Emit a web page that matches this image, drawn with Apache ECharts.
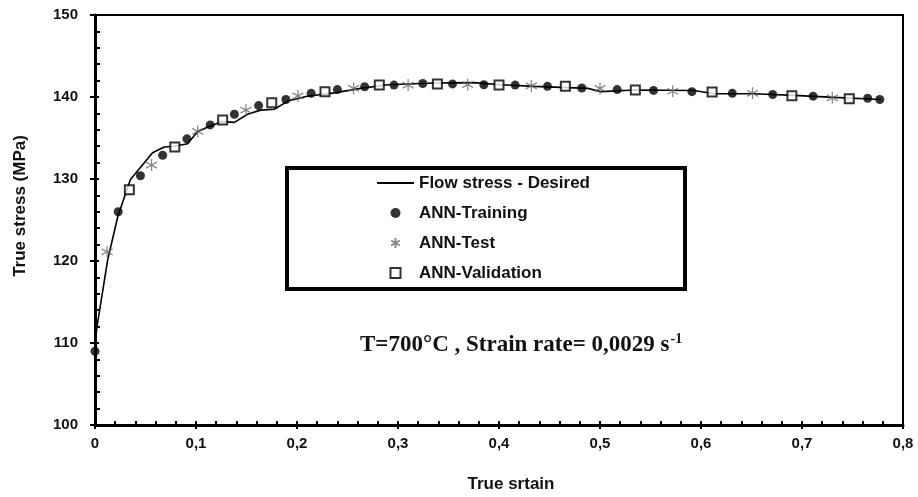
<!DOCTYPE html>
<html>
<head>
<meta charset="utf-8">
<script src="https://cdn.jsdelivr.net/npm/echarts@6/dist/echarts.min.js"></script>
<style>
  html, body { margin: 0; padding: 0; background: #fff; }
  #chart { width: 918px; height: 497px; }
</style>
</head>
<body>
<div id="chart"></div>
<script>
// Flow stress curve (desired) – true strain / true stress (MPa)
const desiredStrain = [0, 0.002, 0.0125, 0.0225, 0.035, 0.0455, 0.057, 0.0686, 0.0785, 0.0917, 0.1017, 0.113, 0.126, 0.138, 0.151, 0.164, 0.1775, 0.191, 0.21, 0.237, 0.263, 0.29, 0.336, 0.375, 0.402, 0.435, 0.488, 0.501, 0.534, 0.593, 0.613, 0.652, 0.692, 0.732, 0.778];
const desiredStress = [110.0, 112.0, 120.1, 125.4, 129.9, 131.5, 133.2, 133.9, 134.0, 134.3, 135.8, 136.4, 137.0, 136.9, 137.9, 138.4, 138.5, 139.5, 140.1, 140.5, 141.05, 141.5, 141.7, 141.75, 141.5, 141.3, 141.05, 140.65, 140.85, 140.8, 140.4, 140.4, 140.2, 139.95, 139.7];

// ANN predictions
const trainStrain = [0.0, 0.023, 0.045, 0.067, 0.091, 0.114, 0.138, 0.162, 0.189, 0.214, 0.240, 0.267, 0.296, 0.3245, 0.354, 0.385, 0.416, 0.448, 0.482, 0.517, 0.553, 0.591, 0.631, 0.671, 0.711, 0.765, 0.777];
const trainStress = [109.0, 126.0, 130.4, 132.9, 134.9, 136.6, 137.9, 138.95, 139.7, 140.45, 140.9, 141.25, 141.45, 141.65, 141.6, 141.5, 141.45, 141.3, 141.1, 140.9, 140.8, 140.65, 140.45, 140.3, 140.1, 139.85, 139.7];

const testStrain = [0.012, 0.056, 0.1017, 0.1495, 0.201, 0.256, 0.310, 0.369, 0.432, 0.500, 0.572, 0.651, 0.730];
const testStress = [121.1, 131.7, 135.8, 138.4, 140.15, 141.05, 141.45, 141.5, 141.35, 141.05, 140.7, 140.45, 139.9];

const validStrain = [0.034, 0.079, 0.1264, 0.175, 0.2277, 0.2815, 0.339, 0.400, 0.4657, 0.535, 0.611, 0.690, 0.7468];
const validStress = [128.7, 133.9, 137.2, 139.3, 140.65, 141.45, 141.6, 141.45, 141.3, 140.85, 140.6, 140.15, 139.8];

// Axis tick labels
const xTickValues = [0, 0.1, 0.2, 0.3, 0.4, 0.5, 0.6, 0.7, 0.8];
const xTickLabels = ['0', '0,1', '0,2', '0,3', '0,4', '0,5', '0,6', '0,7', '0,8'];
const yTickLabels = ['100', '110', '120', '130', '140', '150'];

const seriesNames = ['Flow stress - Desired', 'ANN-Training', 'ANN-Test', 'ANN-Validation'];

const zip = (xs, ys) => xs.map((x, i) => [x, ys[i]]);
const starPath = 'path://M0,-10L0,10M-8.66,-5L8.66,5M-8.66,5L8.66,-5';
const squarePath = 'path://M0,0L10,0L10,10L0,10Z';
const sansBold = { fontFamily: 'Liberation Sans, Arial, sans-serif', fontWeight: 'bold', color: '#111' };

const chart = echarts.init(document.getElementById('chart'), null, { renderer: 'canvas' });

const baseX = { type: 'value', min: 0, max: 0.8, interval: 0.1, gridIndex: 0, position: 'bottom' };
const baseY = { type: 'value', min: 100, max: 150, interval: 10, gridIndex: 0, position: 'left' };

chart.setOption({
  animation: false,
  backgroundColor: '#fff',
  grid: { left: 95, right: 15, top: 15, bottom: 72, show: true, borderColor: '#000', borderWidth: 2, backgroundColor: 'transparent' },
  xAxis: [
    Object.assign({}, baseX, {
      axisLine: { lineStyle: { color: '#000', width: 3 } },
      axisTick: { show: true, inside: false, length: 4, lineStyle: { color: '#000', width: 2 } },
      axisLabel: Object.assign({ fontSize: 15, margin: 11, formatter: v => {
        const i = xTickValues.findIndex(t => Math.abs(t - v) < 1e-9);
        return i >= 0 ? xTickLabels[i] : '';
      } }, sansBold),
      splitLine: { show: false }
    }),
    Object.assign({}, baseX, {
      axisLine: { show: false },
      axisTick: { show: true, inside: true, length: 4, lineStyle: { color: '#000', width: 2 } },
      minorTick: { show: true, splitNumber: 5, length: 4, lineStyle: { color: '#000', width: 2 } },
      axisLabel: { show: false },
      splitLine: { show: false }
    })
  ],
  yAxis: [
    Object.assign({}, baseY, {
      axisLine: { lineStyle: { color: '#000', width: 3 } },
      axisTick: { show: true, inside: false, length: 5, lineStyle: { color: '#000', width: 2 } },
      axisLabel: Object.assign({ fontSize: 15, margin: 17, formatter: v => yTickLabels[Math.round((v - 100) / 10)] }, sansBold),
      splitLine: { show: false }
    }),
    Object.assign({}, baseY, {
      axisLine: { show: false },
      axisTick: { show: true, inside: true, length: 4, lineStyle: { color: '#000', width: 2 } },
      minorTick: { show: true, splitNumber: 5, length: 5, lineStyle: { color: '#000', width: 2 } },
      axisLabel: { show: false },
      splitLine: { show: false }
    })
  ],
  legend: {
    left: 376, top: 173, orient: 'vertical', padding: 0,
    itemWidth: 37, itemHeight: 10, itemGap: 10,
    data: [
      { name: seriesNames[0], itemStyle: { opacity: 0 } },
      { name: seriesNames[1] },
      { name: seriesNames[2] },
      { name: seriesNames[3], icon: squarePath }
    ],
    textStyle: Object.assign({ fontSize: 17, lineHeight: 20 }, sansBold)
  },
  series: [
    {
      name: seriesNames[0], type: 'line', xAxisIndex: 0, yAxisIndex: 0,
      data: zip(desiredStrain, desiredStress),
      symbol: 'none', lineStyle: { color: '#000', width: 1.6 }, itemStyle: { color: '#000' }, z: 2
    },
    {
      name: seriesNames[1], type: 'scatter', xAxisIndex: 0, yAxisIndex: 0,
      data: zip(trainStrain, trainStress),
      symbol: 'circle', symbolSize: 9, itemStyle: { color: '#000' }, z: 3
    },
    {
      name: seriesNames[2], type: 'scatter', xAxisIndex: 0, yAxisIndex: 0,
      data: zip(testStrain, testStress),
      symbol: starPath, symbolSize: [11, 12],
      itemStyle: { color: 'transparent', borderColor: '#6a6a6a', borderWidth: 1.3 }, z: 3
    },
    {
      name: seriesNames[3], type: 'scatter', xAxisIndex: 0, yAxisIndex: 0,
      data: zip(validStrain, validStress),
      symbol: 'rect', symbolSize: 9,
      itemStyle: { color: '#fff', borderColor: '#000', borderWidth: 2 }, z: 4
    }
  ],
  graphic: [
    {
      type: 'rect', z: 1, silent: true,
      shape: { x: 287, y: 168, width: 398, height: 121 },
      style: { fill: 'transparent', stroke: '#000', lineWidth: 4 }
    },
    {
      type: 'text', silent: true, x: 360, y: 345,
      style: {
        text: '{a|T=700°C , Strain rate= 0,0029 s}{b|-1}',
        verticalAlign: 'middle',
        rich: {
          a: { fontFamily: 'Liberation Serif, Times New Roman, serif', fontWeight: 'bold', fontSize: 23, fill: '#111' },
          b: { fontFamily: 'Liberation Serif, Times New Roman, serif', fontWeight: 'bold', fontSize: 14, fill: '#111', verticalAlign: 'top', padding: [0, 0, 12, 1] }
        }
      }
    },
    {
      type: 'text', silent: true, x: 511, y: 484,
      style: { text: 'True srtain', fontSize: 17, align: 'center', verticalAlign: 'middle', fill: '#111', fontFamily: sansBold.fontFamily, fontWeight: 'bold' }
    },
    {
      type: 'text', silent: true, x: 20, y: 206, rotation: Math.PI / 2,
      style: { text: 'True stress (MPa)', fontSize: 17, align: 'center', verticalAlign: 'middle', fill: '#111', fontFamily: sansBold.fontFamily, fontWeight: 'bold' }
    }
  ]
});
</script>
</body>
</html>
